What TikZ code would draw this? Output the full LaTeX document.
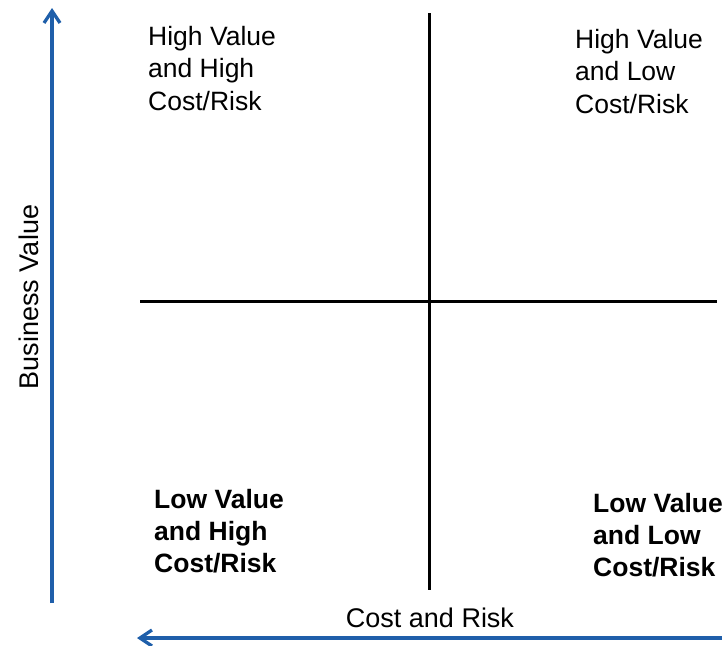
\documentclass[tikz,border=0pt]{standalone}
\usepackage{fontspec}
\setmainfont{Liberation Sans}
\usetikzlibrary{arrows.meta}
\definecolor{axisblue}{RGB}{31,95,170}
\begin{document}
\begin{tikzpicture}[x=1pt,y=-1pt,
  quad/.style={anchor=north west,inner sep=0pt,align=left,font=\fontsize{26.5}{32.5}\selectfont},
  quadb/.style={anchor=north west,inner sep=0pt,align=left,font=\fontsize{26.5}{32}\selectfont\bfseries},
  axislbl/.style={inner sep=0pt,anchor=base,font=\fontsize{27}{30}\selectfont},
  divider/.style={line width=3pt,black},
  axisarrow/.style={line width=3.3pt,axisblue,-{Straight Barb[length=12pt,width=16pt,line width=3.3pt]}}]
\useasboundingbox (0,0) rectangle (722,645);
% axes
\coordinate (vbot) at (52,603);
\coordinate (vtop) at (52,8);
\coordinate (hright) at (724,638);
\coordinate (hleft) at (137,638);
\draw[axisarrow] (vbot) -- (vtop);
\draw[axisarrow] (hright) -- (hleft);
% dividers
\coordinate (dtop) at (429,13);
\coordinate (dbot) at (429,590);
\coordinate (dleft) at (140,301);
\coordinate (dright) at (717,301);
\draw[divider] (dtop) -- (dbot);
\draw[divider] (dleft) -- (dright);
% quadrant labels
\node[quad] (hh) at (148,26) {High Value\\and High\\Cost/Risk};
\node[quad] (hl) at (575,29) {High Value\\and Low\\Cost/Risk};
\node[quadb] (lh) at (154,489) {Low Value\\and High\\Cost/Risk};
\node[quadb] (ll) at (593,493) {Low Value\\and Low\\Cost/Risk};
% axis labels
\node[axislbl,rotate=90] (bv) at (38,297) {Business Value};
\node[axislbl] (cr) at (430,627) {Cost and Risk};
\end{tikzpicture}
\end{document}
